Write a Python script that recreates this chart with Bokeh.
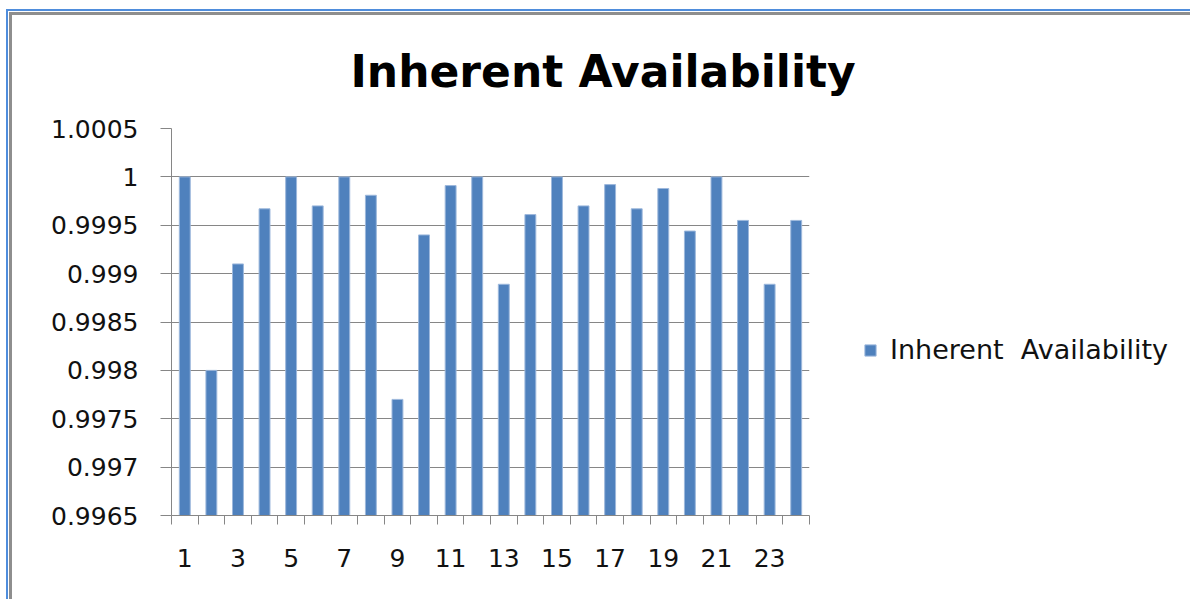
from bokeh.plotting import figure
from bokeh.models import (FixedTicker, NumeralTickFormatter, Legend, LegendItem,
                          Title, Range1d)
from bokeh.embed import file_html
from bokeh.resources import INLINE

# ---- data -------------------------------------------------------------
periods = [1, 2, 3, 4, 5, 6, 7, 8, 9, 10, 11, 12,
           13, 14, 15, 16, 17, 18, 19, 20, 21, 22, 23, 24]
availability = [1.0, 0.998, 0.9991, 0.99967, 1.0, 0.9997, 1.0, 0.99981,
                0.9977, 0.9994, 0.99991, 1.0, 0.99889, 0.99961, 1.0, 0.9997,
                0.99992, 0.99967, 0.99988, 0.99944, 1.0, 0.99955, 0.99889, 0.99955]
y_ticks = [0.9965, 0.997, 0.9975, 0.998, 0.9985, 0.999, 0.9995, 1.0, 1.0005]
x_label_ticks = [1, 3, 5, 7, 9, 11, 13, 15, 17, 19, 21, 23]
series_name = "Inherent  Availability"
chart_title = "Inherent  Availability"

# ---- layout / styling -------------------------------------------------
BAR = "#4F81BD"
GRID = "#868686"
FONT = "DejaVu Sans"

p = figure(frame_width=638, frame_height=387,
           output_backend="svg", toolbar_location=None,
           x_range=Range1d(periods[0] - 0.5, periods[-1] + 0.5),
           y_range=Range1d(y_ticks[0], y_ticks[-1]),
           min_border_left=163, min_border_right=381,
           min_border_top=117, min_border_bottom=84)
p.outline_line_color = None
p.background_fill_color = "white"
p.border_fill_color = None
# blue and grey page rules along the left and top edges
p.styles = {"margin-left": "6px", "margin-top": "9px",
            "border-left": "2px solid #4f8ddc", "border-top": "2px solid #4f8ddc",
            "box-shadow": "inset 1px 1px 0 0 #ffffff, inset 4px 4px 0 0 #8e8e8e"}

bars = p.vbar(x=periods, top=availability, bottom=y_ticks[0], width=0.41,
              fill_color=BAR, line_color="#9db8dc", line_width=1)

# y axis
p.yaxis.ticker = FixedTicker(ticks=y_ticks)
p.yaxis.formatter = NumeralTickFormatter(format="0.[0000]")
p.yaxis.axis_line_color = GRID
p.yaxis.major_tick_line_color = GRID
p.yaxis.major_tick_out = 11
p.yaxis.major_tick_in = 0
p.yaxis.minor_tick_line_color = None
p.yaxis.major_label_standoff = 22
p.yaxis.major_label_text_font = FONT
p.yaxis.major_label_text_font_size = "25px"
p.yaxis.major_label_text_color = "#111111"

# x axis: labels on odd periods, tick marks between categories
boundaries = [v - 0.5 for v in periods] + [periods[-1] + 0.5]
p.xaxis.ticker = FixedTicker(ticks=x_label_ticks, minor_ticks=boundaries)
p.xaxis.axis_line_color = GRID
p.xaxis.major_tick_line_color = None
p.xaxis.major_tick_out = 0
p.xaxis.major_tick_in = 0
p.xaxis.minor_tick_line_color = GRID
p.xaxis.minor_tick_out = 9
p.xaxis.minor_tick_in = 0
p.xaxis.major_label_standoff = 24
p.xaxis.major_label_text_font = FONT
p.xaxis.major_label_text_font_size = "25px"
p.xaxis.major_label_text_color = "#111111"

p.xgrid.grid_line_color = None
p.ygrid.ticker = FixedTicker(ticks=y_ticks)
p.ygrid.grid_line_color = GRID
p.ygrid.grid_line_width = 1

# legend to the right of the plot area
legend = Legend(items=[LegendItem(label=series_name, renderers=[bars])],
                location=(54, 150), glyph_width=14, glyph_height=14,
                label_standoff=13, label_text_font=FONT,
                label_text_font_size="27px", label_text_color="#111111",
                border_line_color=None, background_fill_alpha=0,
                padding=0, margin=0, spacing=0)
p.add_layout(legend, "right")

# chart title
p.title = Title(text=chart_title, align="left", offset=179, standoff=63,
                text_font=FONT, text_font_style="bold",
                text_font_size="44px", text_color="black")

open("out.html", "w").write(file_html(p, INLINE))
